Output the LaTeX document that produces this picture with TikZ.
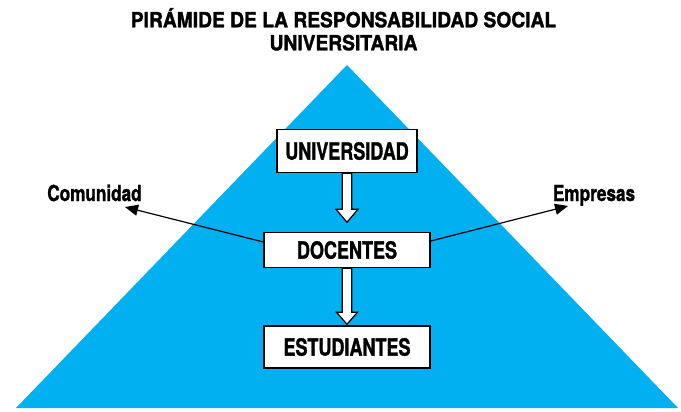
\documentclass[tikz,border=0pt]{standalone}
\usepackage{fontspec}
\setmainfont{TeX Gyre Heros}
\newfontfamily\titlefont{TeX Gyre Heros}[FakeStretch=0.92,FakeBold=1.5]
\newfontfamily\boxfont{TeX Gyre Heros}[FakeStretch=0.76,FakeBold=1.2]
\newfontfamily\lblfont{TeX Gyre Heros}[FakeStretch=0.78,FakeBold=1.2]
\usetikzlibrary{arrows.meta,calc}
\definecolor{pyrblue}{HTML}{00B0F0}
\begin{document}
\begin{tikzpicture}[x=1pt,y=-1pt,
  box/.style={draw=black,line width=1.5pt,fill=white,inner sep=0pt,font=\boxfont\bfseries\fontsize{23.7}{26}\selectfont},
  lbl/.style={inner sep=0pt,anchor=base,font=\lblfont\bfseries\fontsize{22}{24}\selectfont},
  ttl/.style={inner sep=0pt,anchor=base,font=\titlefont\bfseries\fontsize{20.9}{24}\selectfont},
  blockarrow/.style={draw=black,line width=1.2pt,fill=white,line join=miter},
  thinarrow/.style={draw=black,line width=1.2pt,-{Triangle[length=13pt,width=11pt]}}]
\useasboundingbox (0,0) rectangle (681,412);
\fill[pyrblue] (16,408) coordinate (bl) -- (347,65) coordinate (apex) -- (678,408) coordinate (br) -- cycle;
\node[ttl] (title1) at (343.5,27.3) {PIRÁMIDE DE LA RESPONSABILIDAD SOCIAL};
\node[ttl] (title2) at (343.5,50.3) {UNIVERSITARIA};
\node[box,minimum width=140pt,minimum height=43pt] (u) at (347,151) {UNIVERSIDAD};
\node[box,minimum width=166pt,minimum height=35pt] (d) at (347,250) {DOCENTES};
\node[box,minimum width=166pt,minimum height=42pt] (e) at (347,347) {ESTUDIANTES};
\node[lbl] (com) at (94.5,201) {Comunidad};
\node[lbl] (emp) at (594,201) {Empresas};
\coordinate (comtip) at (125,207);
\coordinate (emptip) at (568,206);
% block arrows
\path[blockarrow] ($(u.south)+(-4.75,0)$) -- ($(u.south)+(4.75,0)$) -- ($(u.south)+(4.75,36)$) -- ($(u.south)+(11,36)$) -- ($(u.south)+(0,49)$) -- ($(u.south)+(-11,36)$) -- ($(u.south)+(-4.75,36)$) -- cycle;
\path[blockarrow] ($(d.south)+(-4.75,0)$) -- ($(d.south)+(4.75,0)$) -- ($(d.south)+(4.75,44)$) -- ($(d.south)+(10.5,44)$) -- ($(e.north)+(0,-1)$) -- ($(d.south)+(-10.5,44)$) -- ($(d.south)+(-4.75,44)$) -- cycle;
\draw[thinarrow] ($(d.west)+(0,-8)$) -- (comtip);
\draw[thinarrow] ($(d.east)+(0,-9)$) -- (emptip);
\end{tikzpicture}
\end{document}
